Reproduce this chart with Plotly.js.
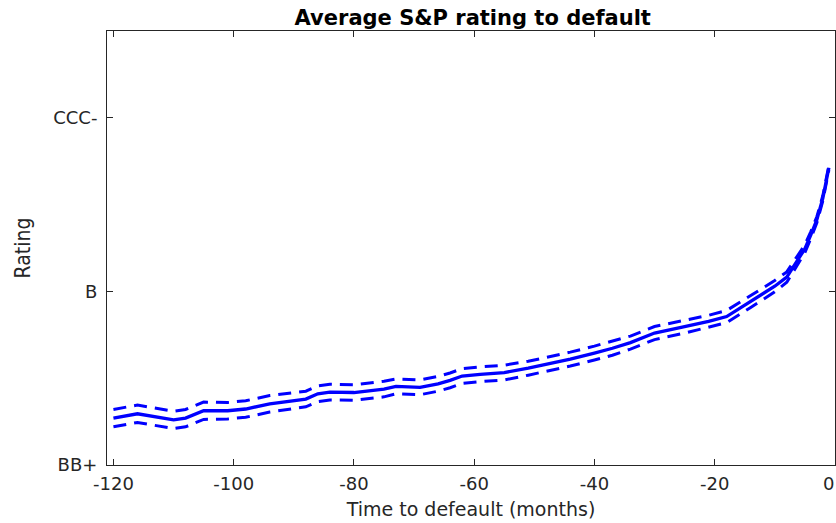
<!DOCTYPE html>
<html>
<head>
<meta charset="utf-8">
<script src="https://cdn.plot.ly/plotly-3.0.1.min.js"></script>
<style>
  html, body { margin: 0; padding: 0; background: #ffffff; }
  #chart { width: 836px; height: 523px; }
</style>
</head>
<body>
<div id="chart"></div>
<script>
// Months before default
var months = [-120,-116,-110,-108,-105,-101,-98,-94,-88,-86,-84,-80,-75,-73,-69,-66,-64,-62,-59,-55,-51,-47,-44,-40,-37,-34,-30,-25,-21,-18,-14,-10,-8,-6,-5,-4,-3,-2,-1];
// Average rating (numeric notch scale: BB+ = 11, B = 15, CCC- = 19)
var avgRating = [12.08,12.18,12.04,12.08,12.25,12.25,12.29,12.41,12.52,12.64,12.68,12.67,12.75,12.81,12.79,12.87,12.95,13.05,13.09,13.13,13.23,13.35,13.44,13.58,13.69,13.82,14.04,14.19,14.31,14.42,14.77,15.12,15.33,15.75,15.98,16.30,16.65,17.15,17.85];
// Upper confidence band
var upperBand = [12.28,12.38,12.24,12.28,12.45,12.44,12.48,12.60,12.70,12.82,12.86,12.85,12.93,12.98,12.96,13.04,13.12,13.22,13.26,13.30,13.39,13.51,13.60,13.74,13.85,13.97,14.19,14.34,14.45,14.56,14.91,15.25,15.45,15.85,16.07,16.38,16.72,17.21,17.90];
// Lower confidence band
var lowerBand = [11.88,11.98,11.84,11.88,12.05,12.06,12.10,12.22,12.34,12.46,12.50,12.49,12.57,12.64,12.62,12.70,12.78,12.88,12.92,12.96,13.07,13.19,13.28,13.42,13.53,13.67,13.89,14.04,14.17,14.28,14.63,14.99,15.21,15.65,15.89,16.22,16.58,17.09,17.80];

var xTickVals = [-120,-100,-80,-60,-40,-20,0];
var xTickText = ['-120','-100','-80','-60','-40','-20',''];
var xEdgeTickLabel = '0';
var yTickVals = [11,15,19];
var yTickText = ['BB+','B','CCC-'];

var blue = '#0000ff';
var axisColor = '#262626';
var font = 'DejaVu Sans, Liberation Sans, Arial, sans-serif';

var traces = [
  {x: months, y: upperBand, type: 'scatter', mode: 'lines', name: 'Upper',
   line: {color: blue, width: 3, dash: '13px,8px'}, hoverinfo: 'skip'},
  {x: months, y: lowerBand, type: 'scatter', mode: 'lines', name: 'Lower',
   line: {color: blue, width: 3, dash: '13px,8px'}, hoverinfo: 'skip'},
  {x: months, y: avgRating, type: 'scatter', mode: 'lines', name: 'Average',
   line: {color: blue, width: 3.3}}
];

var layout = {
  width: 836, height: 523,
  paper_bgcolor: '#ffffff', plot_bgcolor: '#ffffff',
  showlegend: false,
  margin: {l: 107, r: 1, t: 31, b: 58, pad: 0},
  font: {family: font, size: 18, color: axisColor},
  title: {
    text: '<b>Average S&P rating to default</b>',
    font: {family: 'DejaVu Sans, Liberation Sans, Arial, sans-serif', size: 21, color: '#000000'},
    x: 0.5655, xref: 'container', xanchor: 'center',
    y: 0.966, yref: 'container', yanchor: 'middle'
  },
  xaxis: {
    range: [-121.07, 0.02],
    tickvals: xTickVals, ticktext: xTickText,
    ticks: 'inside', ticklen: 6, tickwidth: 1, tickcolor: axisColor,
    showline: true, linecolor: axisColor, linewidth: 1, mirror: 'ticks',
    showgrid: false, zeroline: false,
    ticklabelstandoff: 2,
    tickfont: {family: font, size: 18, color: axisColor},
    title: {text: 'Time to defeault (months)', font: {family: font, size: 19, color: axisColor}, standoff: 10}
  },
  yaxis: {
    range: [11, 21],
    tickvals: yTickVals, ticktext: yTickText,
    ticks: 'inside', ticklen: 6, tickwidth: 1, tickcolor: axisColor,
    showline: true, linecolor: axisColor, linewidth: 1, mirror: 'ticks',
    showgrid: false, zeroline: false,
    ticklabelstandoff: 5,
    tickfont: {family: font, size: 18, color: axisColor},
    title: {text: 'Rating', font: {family: 'Liberation Sans Narrow, DejaVu Sans Condensed, Liberation Sans, sans-serif', size: 21, color: axisColor}, standoff: 16}
  },
  annotations: [{
    text: xEdgeTickLabel, showarrow: false,
    xref: 'x', x: xTickVals[xTickVals.length - 1], xanchor: 'right', xshift: 1,
    yref: 'paper', y: 0, yanchor: 'middle', yshift: -18,
    font: {family: font, size: 18, color: axisColor}
  }]
};

Plotly.newPlot('chart', traces, layout, {displayModeBar: false, staticPlot: true});
</script>
</body>
</html>
